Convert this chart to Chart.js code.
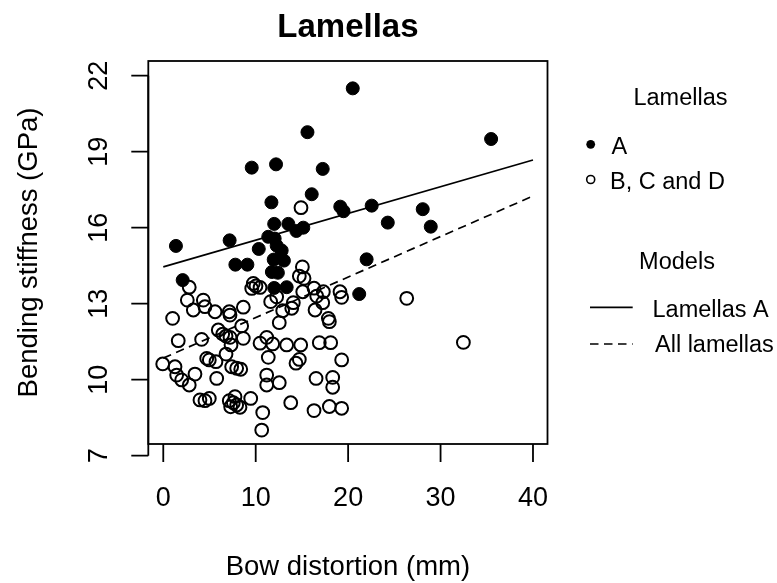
<!DOCTYPE html>
<html lang="en">
<head>
  <meta charset="UTF-8" />
  <title>Lamellas</title>
  <script src="https://cdn.jsdelivr.net/npm/chart.js"></script>
  <style>
    html, body { margin: 0; padding: 0; background: #fff; }
    #wrap { width: 777px; height: 583px; }
  </style>
</head>
<body>
  <div id="wrap"><canvas id="lamellaChart" width="777" height="583"></canvas></div>

  <script>
    // Lamellas A (filled points)
    const bowA = [20.5, 15.6, 9.57, 12.2, 17.25, 16.06, 11.7, 19.15, 19.5, 12.0, 13.53, 14.4, 15.15,
      1.37, 7.18, 11.36, 12.05, 10.33, 12.27, 12.81, 7.8, 9.1, 11.95, 13.05, 11.75, 12.4,
      2.1, 12.0, 13.35, 35.47, 22.55, 24.29, 28.07, 28.94, 22.0, 21.2];
    const stiffA = [21.5, 19.77, 18.37, 18.5, 18.32, 17.32, 17.0, 16.83, 16.65, 16.15, 16.15, 15.87, 16.0,
      15.28, 15.5, 15.64, 15.57, 15.16, 15.29, 15.1, 14.54, 14.54, 14.74, 14.7, 14.25, 14.22,
      13.93, 13.62, 13.65, 19.5, 16.87, 16.2, 16.73, 16.04, 14.75, 13.38];

    // Lamellas B, C and D (open points)
    const bowOther = [14.9, 15.05, 14.72, 15.23, 2.81, 9.74, 10.03, 9.57, 10.47, 15.09,
      16.31, 17.32, 16.6, 17.25, 16.42, 19.12, 19.3, 2.6, 3.25, 4.33, 4.51, 5.6, 7.14, 7.22,
      8.66, 11.62, 12.27, 12.92, 13.9, 14.07, 12.55, 1.01, 5.95, 6.43, 6.79, 7.22, 8.48, 8.66,
      7.33, 6.79, 1.62, 4.15, 10.47, 11.19, 11.84, 13.35, 14.87, 16.88, 18.11, 11.36, 14.72,
      14.36, 19.3, 4.7, 4.98, 5.7, -0.06, 1.27, 1.45, 1.99, 2.81, 3.43, 7.4, 7.94, 8.38, 5.78,
      11.19, 11.19, 12.55, 16.53, 18.33, 18.33, 3.97, 4.51, 4.98, 7.14, 7.58, 7.94, 8.3, 7.29,
      7.76, 9.46, 10.76, 10.65, 13.79, 16.31, 17.97, 19.3, 26.34, 32.47, 17.86, 17.97];
    const stiffOther = [16.79, 14.45, 14.09, 14.0, 13.65, 13.8, 13.7, 13.6, 13.64, 13.47,
      13.61, 13.47, 13.3, 13.04, 12.75, 13.47, 13.25, 13.14, 12.75, 13.14, 12.88, 12.68, 12.68, 12.55,
      12.86, 13.08, 13.27, 12.72, 12.82, 13.04, 12.25, 12.42, 11.96, 11.8, 11.72, 11.67, 12.12, 11.63,
      11.37, 11.01, 11.54, 11.59, 11.44, 11.67, 11.41, 11.37, 11.37, 11.46, 11.46, 10.88, 10.8,
      10.65, 10.78, 10.84, 10.78, 10.71, 10.62, 10.51, 10.18, 9.99, 9.79, 10.22, 10.51, 10.45, 10.41, 10.05,
      10.18, 9.79, 9.88, 10.05, 10.09, 9.7, 9.2, 9.17, 9.26, 9.17, 9.09, 9.0, 8.91, 8.93,
      9.33, 9.26, 8.7, 8.01, 9.09, 8.78, 8.94, 8.87, 13.21, 11.47, 12.42, 12.29];

    // fitted models, evaluated at the ends of the x range
    const modelBow = [0, 40];
    const fitLamellaA = [14.45, 18.67];
    const fitAll = [10.85, 17.25];

    const xTicks = [0, 10, 20, 30, 40];
    const yTicks = [7, 10, 13, 16, 19, 22];

    const toPoints = (xs, ys) => xs.map((x, i) => ({ x: x, y: ys[i] }));
    const FONT = '"Liberation Sans", Arial, sans-serif';
    const DASH = [8.5, 5.5];

    // R style axes, titles and legend
    const rStyle = {
      id: 'rStyle',
      afterDraw(chart) {
        const ctx = chart.ctx;
        const a = chart.chartArea;
        const xs = chart.scales.x, ys = chart.scales.y;
        ctx.save();
        ctx.strokeStyle = '#000';
        ctx.fillStyle = '#000';
        ctx.lineWidth = 1.8;
        ctx.strokeRect(a.left, a.top, a.right - a.left, a.bottom - a.top);

        ctx.beginPath();
        ctx.moveTo(a.left, ys.getPixelForValue(yTicks[0]));
        ctx.lineTo(a.left, ys.getPixelForValue(yTicks[yTicks.length - 1]));
        yTicks.forEach(v => {
          const p = ys.getPixelForValue(v);
          ctx.moveTo(a.left - 17, p);
          ctx.lineTo(a.left, p);
        });
        xTicks.forEach(v => {
          const p = xs.getPixelForValue(v);
          ctx.moveTo(p, a.bottom);
          ctx.lineTo(p, a.bottom + 18);
        });
        ctx.stroke();

        // tick labels
        ctx.font = '27px ' + FONT;
        ctx.textAlign = 'center';
        ctx.textBaseline = 'alphabetic';
        xTicks.forEach(v => ctx.fillText(String(v), xs.getPixelForValue(v), a.bottom + 62));
        yTicks.forEach(v => {
          ctx.save();
          ctx.translate(a.left - 41, ys.getPixelForValue(v));
          ctx.rotate(-Math.PI / 2);
          ctx.fillText(String(v), 0, 0);
          ctx.restore();
        });

        // axis titles
        ctx.font = '27.5px ' + FONT;
        ctx.fillText('Bow distortion (mm)', (a.left + a.right) / 2, 575);
        ctx.save();
        ctx.translate(37, (a.top + a.bottom) / 2);
        ctx.rotate(-Math.PI / 2);
        ctx.fillText('Bending stiffness (GPa)', 0, 0);
        ctx.restore();

        // main title
        ctx.font = 'bold 33px ' + FONT;
        ctx.fillText('Lamellas', (a.left + a.right) / 2, 37);

        // legend
        ctx.font = '23.5px ' + FONT;
        ctx.fillText('Lamellas', 680.5, 105);
        ctx.fillText('Models', 677, 268.5);
        ctx.textAlign = 'left';
        ctx.fillText('A', 611.5, 153.5);
        ctx.fillText('B, C and D', 610, 188.5);
        ctx.fillText('Lamellas A', 652.5, 316.5);
        ctx.fillText('All lamellas', 655, 352);

        ctx.beginPath();
        ctx.arc(590.7, 144.3, 4.4, 0, Math.PI * 2);
        ctx.fill();
        ctx.lineWidth = 1.6;
        ctx.beginPath();
        ctx.arc(590.7, 179.5, 4, 0, Math.PI * 2);
        ctx.stroke();

        ctx.lineWidth = 1.7;
        ctx.beginPath();
        ctx.moveTo(590, 307.3);
        ctx.lineTo(632.7, 307.3);
        ctx.stroke();
        ctx.setLineDash(DASH);
        ctx.beginPath();
        ctx.moveTo(590, 344);
        ctx.lineTo(632.7, 344);
        ctx.stroke();
        ctx.restore();
      }
    };

    new Chart(document.getElementById('lamellaChart'), {
      type: 'scatter',
      data: {
        datasets: [
          {
            label: 'B, C and D',
            data: toPoints(bowOther, stiffOther),
            pointRadius: 6.4,
            pointBorderWidth: 2,
            pointBackgroundColor: 'rgba(0,0,0,0)',
            pointBorderColor: '#000'
          },
          {
            label: 'A',
            data: toPoints(bowA, stiffA),
            pointRadius: 6.5,
            pointBorderWidth: 1,
            pointBackgroundColor: '#000',
            pointBorderColor: '#000'
          },
          {
            type: 'line',
            label: 'Lamellas A',
            data: toPoints(modelBow, fitLamellaA),
            borderColor: '#000',
            borderWidth: 1.7,
            pointRadius: 0,
            fill: false
          },
          {
            type: 'line',
            label: 'All lamellas',
            data: toPoints(modelBow, fitAll),
            borderColor: '#000',
            borderWidth: 1.7,
            borderDash: DASH,
            pointRadius: 0,
            fill: false
          }
        ]
      },
      options: {
        responsive: false,
        animation: false,
        devicePixelRatio: 1,
        layout: { padding: { left: 148.3, top: 61, right: 229.5, bottom: 139 } },
        scales: {
          x: { type: 'linear', min: -1.62, max: 41.57, display: false },
          y: { type: 'linear', min: 7.46, max: 22.58, display: false }
        },
        plugins: {
          legend: { display: false },
          tooltip: { enabled: false },
          title: { display: false }
        }
      },
      plugins: [rStyle]
    });
  </script>
</body>
</html>
